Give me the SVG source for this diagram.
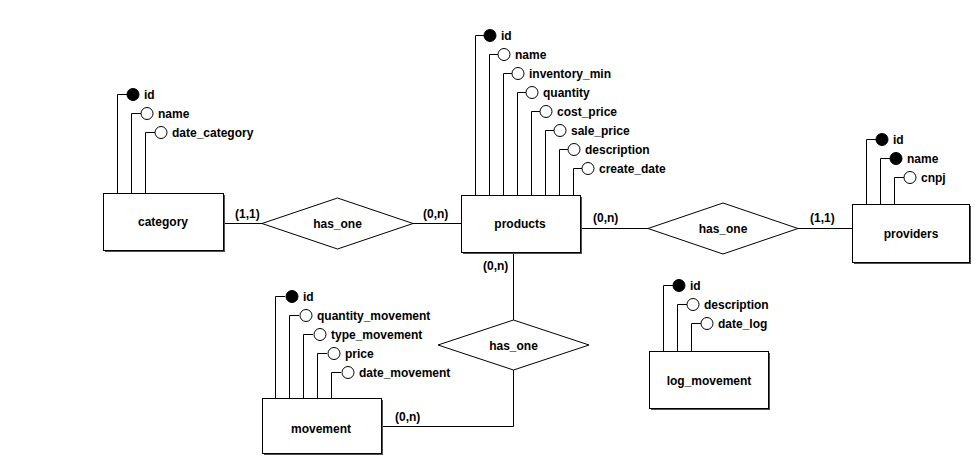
<svg xmlns="http://www.w3.org/2000/svg" width="975" height="461" viewBox="0 0 975 461">
<style>
text{font-family:"Liberation Sans",Arial,sans-serif;font-weight:bold;font-size:12px;fill:#000}
.t{text-anchor:middle;dominant-baseline:central}
.box{fill:#fff;stroke:#000;stroke-width:1}
.sh{fill:#505050}
.ln{fill:none;stroke:#000;stroke-width:1}
.pk{fill:#000;stroke:#000}
.at{fill:#fff;stroke:#000}
</style>
<rect width="975" height="461" fill="#fff"/>
<g id="connectors">
<polyline class="ln" points="223.5,223.5 262,223.5"/>
<polyline class="ln" points="413,223.5 461,223.5"/>
<polyline class="ln" points="580,228.5 648,228.5"/>
<polyline class="ln" points="798,228.5 852,228.5"/>
<polyline class="ln" points="513.5,252 513.5,320"/>
<polyline class="ln" points="513.5,370 513.5,426.5 382,426.5"/>
<text x="235" y="218">(1,1)</text>
<text x="423" y="218">(0,n)</text>
<text x="593" y="222">(0,n)</text>
<text x="810" y="222">(1,1)</text>
<text x="483" y="270">(0,n)</text>
<text x="395" y="421">(0,n)</text>
</g>
<g id="category">
<polyline class="ln" points="117.5,193 117.5,94.5 127,94.5"/>
<polyline class="ln" points="131.5,193 131.5,113.5 141,113.5"/>
<polyline class="ln" points="145.5,193 145.5,132.5 155,132.5"/>
<circle class="pk" cx="133" cy="94.5" r="6"/>
<circle class="at" cx="147" cy="113.5" r="6"/>
<circle class="at" cx="161" cy="132.5" r="6"/>
<text x="144" y="99">id</text>
<text x="158" y="118">name</text>
<text x="172" y="137">date_category</text>
<rect class="sh" x="105" y="195" width="120" height="57"/>
<rect class="box" x="103.5" y="193.5" width="120" height="57"/>
<text class="t" x="163" y="222">category</text>
</g>
<g id="products">
<polyline class="ln" points="475.5,195 475.5,35.5 484,35.5"/>
<polyline class="ln" points="489.5,195 489.5,54.5 498,54.5"/>
<polyline class="ln" points="503.5,195 503.5,73.5 512,73.5"/>
<polyline class="ln" points="517.5,195 517.5,92.5 526,92.5"/>
<polyline class="ln" points="531.5,195 531.5,111.5 540,111.5"/>
<polyline class="ln" points="545.5,195 545.5,130.5 554,130.5"/>
<polyline class="ln" points="559.5,195 559.5,149.5 568,149.5"/>
<polyline class="ln" points="573.5,195 573.5,168.5 582,168.5"/>
<circle class="pk" cx="490" cy="35.5" r="6"/>
<circle class="at" cx="504" cy="54.5" r="6"/>
<circle class="at" cx="518" cy="73.5" r="6"/>
<circle class="at" cx="532" cy="92.5" r="6"/>
<circle class="at" cx="546" cy="111.5" r="6"/>
<circle class="at" cx="560" cy="130.5" r="6"/>
<circle class="at" cx="574" cy="149.5" r="6"/>
<circle class="at" cx="588" cy="168.5" r="6"/>
<text x="501" y="40">id</text>
<text x="515" y="59">name</text>
<text x="529" y="78">inventory_min</text>
<text x="543" y="97">quantity</text>
<text x="557" y="116">cost_price</text>
<text x="571" y="135">sale_price</text>
<text x="585" y="154">description</text>
<text x="599" y="173">create_date</text>
<rect class="sh" x="463" y="197" width="119" height="57"/>
<rect class="box" x="461.5" y="195.5" width="119" height="57"/>
<text class="t" x="520" y="224">products</text>
</g>
<g id="providers">
<polyline class="ln" points="866.5,204 866.5,139.5 876,139.5"/>
<polyline class="ln" points="880.5,204 880.5,158.5 890,158.5"/>
<polyline class="ln" points="894.5,204 894.5,177.5 904,177.5"/>
<circle class="pk" cx="882" cy="139.5" r="6"/>
<circle class="pk" cx="896" cy="158.5" r="6"/>
<circle class="at" cx="910" cy="177.5" r="6"/>
<text x="893" y="144">id</text>
<text x="907" y="163">name</text>
<text x="921" y="182">cnpj</text>
<rect class="sh" x="854" y="206" width="117" height="58"/>
<rect class="box" x="852.5" y="204.5" width="117" height="58"/>
<text class="t" x="911" y="234">providers</text>
</g>
<g id="movement">
<polyline class="ln" points="275.5,398 275.5,296.5 285,296.5"/>
<polyline class="ln" points="289.5,398 289.5,315.5 299,315.5"/>
<polyline class="ln" points="303.5,398 303.5,334.5 313,334.5"/>
<polyline class="ln" points="317.5,398 317.5,353.5 327,353.5"/>
<polyline class="ln" points="331.5,398 331.5,372.5 341,372.5"/>
<circle class="pk" cx="292" cy="296.5" r="6"/>
<circle class="at" cx="306" cy="315.5" r="6"/>
<circle class="at" cx="320" cy="334.5" r="6"/>
<circle class="at" cx="334" cy="353.5" r="6"/>
<circle class="at" cx="348" cy="372.5" r="6"/>
<text x="303" y="301">id</text>
<text x="317" y="320">quantity_movement</text>
<text x="331" y="339">type_movement</text>
<text x="345" y="358">price</text>
<text x="359" y="377">date_movement</text>
<rect class="sh" x="264" y="400" width="119" height="55"/>
<rect class="box" x="262.5" y="398.5" width="119" height="55"/>
<text class="t" x="321" y="429">movement</text>
</g>
<g id="log_movement">
<polyline class="ln" points="663.5,351 663.5,285.5 673,285.5"/>
<polyline class="ln" points="677.5,351 677.5,304.5 687,304.5"/>
<polyline class="ln" points="691.5,351 691.5,323.5 701,323.5"/>
<circle class="pk" cx="679" cy="285.5" r="6"/>
<circle class="at" cx="693" cy="304.5" r="6"/>
<circle class="at" cx="707" cy="323.5" r="6"/>
<text x="690" y="290">id</text>
<text x="704" y="309">description</text>
<text x="718" y="328">date_log</text>
<rect class="sh" x="651" y="353" width="119" height="57"/>
<rect class="box" x="649.5" y="351.5" width="119" height="57"/>
<text class="t" x="709" y="381">log_movement</text>
</g>
<g id="rel_category_products">
<polygon class="box" points="262,223.5 337.5,198 413,223.5 337.5,249"/>
<text class="t" x="337.5" y="224">has_one</text>
</g>
<g id="rel_products_providers">
<polygon class="box" points="648,228.5 723,203 798,228.5 723,254"/>
<text class="t" x="723" y="229">has_one</text>
</g>
<g id="rel_products_movement">
<polygon class="box" points="438,345 513.5,320 589,345 513.5,370"/>
<text class="t" x="513.5" y="346">has_one</text>
</g>
</svg>
